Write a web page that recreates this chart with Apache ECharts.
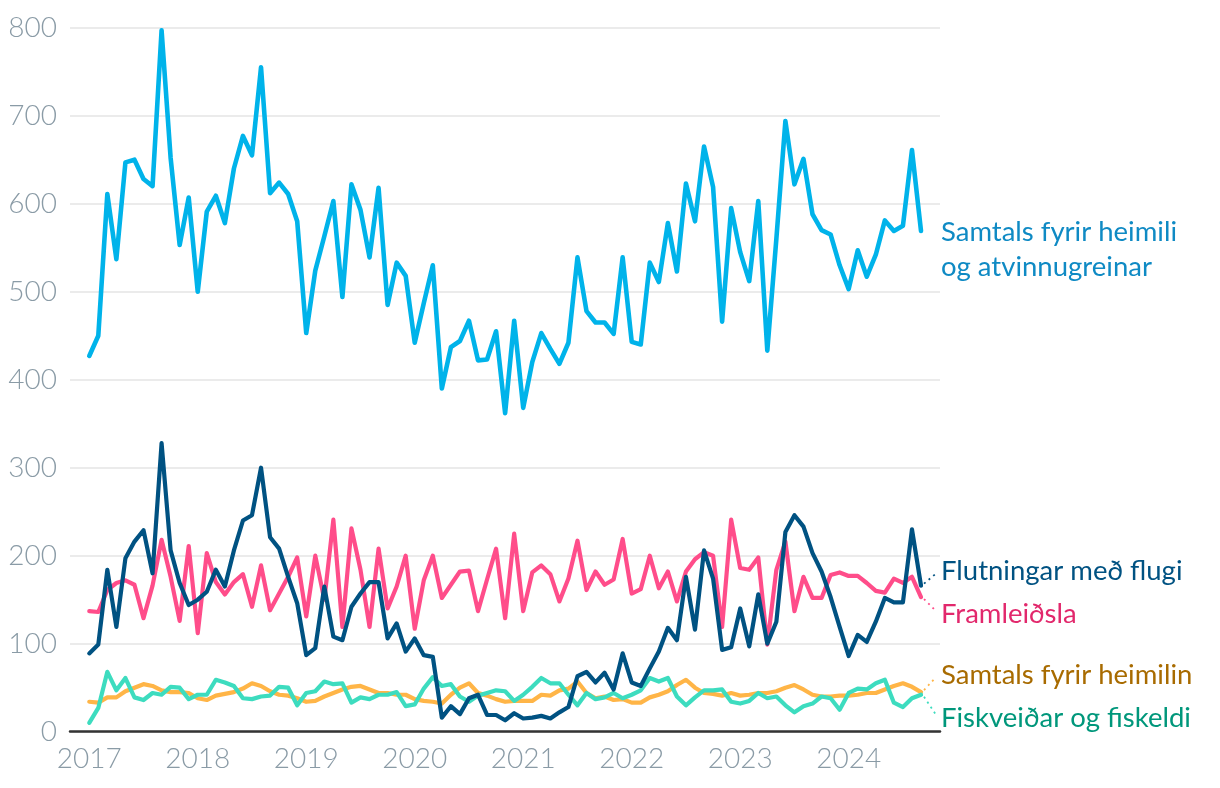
<!DOCTYPE html>
<html>
<head>
<meta charset="utf-8">
<script src="https://cdn.jsdelivr.net/npm/echarts@6/dist/echarts.min.js"></script>
<style>
  html, body { margin: 0; padding: 0; background: #fff; }
  #chart { width: 1220px; height: 788px; }
</style>
</head>
<body>
<div id="chart"></div>
<script>
// Monthly data, Jan 2017 .. Sep 2024 (93 months)
const startYear = 2017;
const yearTicks = [2017, 2018, 2019, 2020, 2021, 2022, 2023, 2024];
const yTicks = [0, 100, 200, 300, 400, 500, 600, 700, 800];

const seriesNames = [
  'Samtals fyrir heimili og atvinnugreinar',
  'Flutningar með flugi',
  'Framleiðsla',
  'Samtals fyrir heimilin',
  'Fiskveiðar og fiskeldi'
];

const total = [
  427, 450, 611, 537, 647, 650, 628, 620, 797, 652, 553, 607,
  500, 591, 609, 578, 640, 677, 655, 755, 612, 624, 611, 580,
  453, 524, 563, 603, 494, 622, 593, 539, 618, 485, 533, 518,
  442, 487, 530, 390, 437, 444, 467, 422, 423, 455, 362, 467,
  368, 420, 453, 435, 418, 442, 539, 478, 465, 465, 452, 539,
  443, 440, 533, 511, 578, 523, 623, 580, 665, 619, 466, 595,
  545, 512, 603, 433, 560, 694, 622, 651, 588, 570, 565, 530,
  503, 547, 517, 542, 581, 569, 575, 661, 569
];

const flug = [
  89, 99, 184, 119, 197, 216, 229, 180, 328, 206, 169, 144,
  150, 159, 184, 165, 206, 240, 246, 300, 221, 208, 176, 146,
  87, 95, 165, 108, 104, 142, 157, 170, 170, 106, 123, 91,
  106, 87, 85, 16, 29, 20, 38, 42, 19, 19, 13, 21,
  15, 16, 18, 15, 22, 28, 63, 68, 56, 67, 48, 89,
  56, 52, 72, 91, 118, 104, 176, 116, 206, 174, 93, 96,
  140, 97, 156, 100, 125, 227, 246, 233, 203, 182, 153, 119,
  86, 110, 102, 125, 152, 147, 147, 230, 166
];

const framleidsla = [
  137, 136, 161, 169, 172, 167, 129, 166, 218, 176, 126, 211,
  112, 203, 170, 156, 170, 179, 142, 189, 138, 157, 176, 198,
  131, 200, 150, 241, 119, 231, 184, 119, 208, 140, 165, 200,
  117, 172, 200, 152, 167, 182, 183, 137, 173, 208, 129, 225,
  137, 181, 189, 179, 148, 174, 217, 161, 182, 167, 173, 219,
  157, 162, 200, 163, 182, 148, 182, 196, 204, 200, 119, 241,
  186, 184, 198, 99, 184, 216, 137, 176, 152, 152, 178, 181,
  177, 177, 169, 160, 158, 174, 169, 176, 153
];

const heimilin = [
  34, 33, 39, 39, 46, 50, 54, 52, 47, 45, 45, 44,
  38, 36, 41, 43, 45, 49, 55, 52, 46, 42, 41, 38,
  34, 35, 40, 44, 48, 51, 52, 48, 44, 44, 42, 42,
  37, 35, 34, 32, 42, 50, 55, 44, 41, 37, 34, 35,
  35, 35, 42, 41, 47, 49, 57, 44, 38, 40, 36, 37,
  33, 33, 39, 42, 46, 53, 59, 50, 44, 43, 41, 44,
  41, 42, 44, 44, 46, 50, 53, 48, 42, 40, 40, 41,
  41, 42, 44, 44, 48, 52, 55, 51, 45
];

const fiskveidar = [
  10, 27, 68, 47, 61, 39, 36, 44, 42, 51, 50, 37,
  42, 42, 59, 56, 52, 38, 37, 40, 41, 51, 50, 30,
  44, 46, 57, 54, 55, 33, 39, 37, 42, 42, 45, 29,
  31, 49, 62, 52, 54, 40, 34, 41, 44, 47, 46, 35,
  42, 51, 61, 55, 55, 42, 30, 44, 37, 39, 44, 38,
  42, 47, 61, 57, 61, 40, 30, 39, 47, 47, 48, 34,
  32, 35, 44, 38, 40, 30, 22, 29, 32, 40, 38, 25,
  44, 49, 48, 55, 59, 33, 28, 38, 42
];

const lineColors = ['#00b3ea', '#005282', '#ff4d8a', '#ffb547', '#3ddcbf'];
const textColors = ['#0f8ac4', '#005282', '#e2286c', '#a86b00', '#00977b'];
const FONT = 'Lato, "Noto Sans", sans-serif';

const toPairs = arr => arr.map((v, i) => [i, v]);

const chart = echarts.init(document.getElementById('chart'), null, { renderer: 'canvas' });

function lineSeries(name, data, color, width, z) {
  return {
    type: 'line', name, data: toPairs(data), z,
    showSymbol: false, symbol: 'none', silent: true,
    lineStyle: { color, width, cap: 'round', join: 'round' }
  };
}

chart.setOption({
  animation: false,
  grid: { left: 70, right: 280, top: 27.7, bottom: 56.3 },
  xAxis: {
    type: 'value', min: -2.13, max: 94.1,
    axisLine: { show: true, onZero: true, lineStyle: { color: '#333333', width: 2.5 } },
    axisTick: { show: false },
    splitLine: { show: false },
    axisLabel: {
      customValues: yearTicks.map(y => (y - startYear) * 12),
      formatter: v => String(startYear + Math.round(v / 12)),
      color: '#8a9ba6', fontSize: 28, fontFamily: FONT, fontWeight: 300, margin: 13
    }
  },
  yAxis: {
    type: 'value', min: 0, max: 800, interval: 100,
    axisLine: { show: false }, axisTick: { show: false },
    splitLine: { show: true, lineStyle: { color: '#e4e4e4', width: 1.5 } },
    axisLabel: { color: '#8a9ba6', fontSize: 28, fontFamily: FONT, fontWeight: 300, margin: 13 }
  },
  series: [
    lineSeries(seriesNames[3], heimilin, lineColors[3], 4.2, 2),
    lineSeries(seriesNames[4], fiskveidar, lineColors[4], 4.2, 3),
    lineSeries(seriesNames[2], framleidsla, lineColors[2], 4.2, 4),
    lineSeries(seriesNames[1], flug, lineColors[1], 4.2, 5),
    lineSeries(seriesNames[0], total, lineColors[0], 4.6, 6)
  ]
});

// End labels placed beside the last points, with dotted leader lines
const last = total.length - 1;
const ends = [total, flug, framleidsla, heimilin, fiskveidar].map(a => chart.convertToPixel({ gridIndex: 0 }, [last, a[last]]));
const labelX = 941;
// vertical offsets (px) of each label from its series' end point
const labelDy = [1, -14, 17, -17, 23];
const texts = [
  'Samtals fyrir heimili\nog atvinnugreinar',
  'Flutningar með flugi',
  'Framleiðsla',
  'Samtals fyrir heimilin',
  'Fiskveiðar og fiskeldi'
];
const graphics = [];
texts.forEach((t, k) => {
  const ly = ends[k][1] + labelDy[k];
  graphics.push({
    type: 'text', x: labelX, y: ly, z: 10,
    style: {
      text: t, fill: textColors[k], fontSize: 27.5, fontFamily: FONT,
      textVerticalAlign: k === 0 ? 'top' : 'middle', lineHeight: 35,
      y: k === 0 ? -17 : 0
    }
  });
  if (k > 0) {
    graphics.push({
      type: 'line', z: 9,
      shape: { x1: ends[k][0] + 3, y1: ends[k][1] + (labelDy[k] < 0 ? -2 : 2), x2: labelX - 5, y2: ly + (labelDy[k] < 0 ? 2 : -3) },
      style: { stroke: lineColors[k], lineWidth: 1.8, lineDash: [2, 4] }
    });
  }
});
chart.setOption({ graphic: graphics });
</script>
</body>
</html>
